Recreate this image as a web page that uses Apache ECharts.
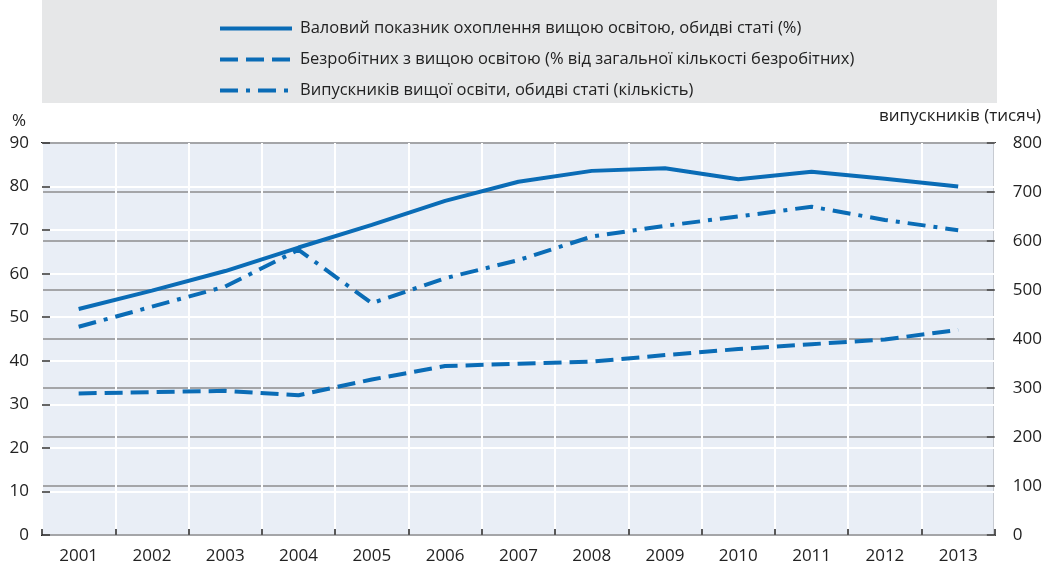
<!DOCTYPE html>
<html><head><meta charset="utf-8">
<script src="https://cdn.jsdelivr.net/npm/echarts@6/dist/echarts.min.js"></script>
<style>html,body{margin:0;padding:0;background:#fff}#c{width:1045px;height:568px}</style>
</head><body><div id="c"></div>
<script>
const years = ['2001','2002','2003','2004','2005','2006','2007','2008','2009','2010','2011','2012','2013'];
const enrolment = [51.9, 56.1, 60.6, 66.0, 71.2, 76.7, 81.1, 83.6, 84.2, 81.7, 83.4, 81.8, 80.0];
const unemployed = [32.5, 32.8, 33.1, 32.1, 35.7, 38.8, 39.3, 39.8, 41.3, 42.7, 43.8, 44.9, 47.1];
const graduates = [425, 466, 507, 582, 473, 524, 561, 609, 631, 650, 670, 643, 622];
const names = [
  'Валовий показник охоплення вищою освітою, обидві статі (%)',
  'Безробітних з вищою освітою (% від загальної кількості безробітних)',
  'Випускників вищої освіти, обидві статі (кількість)'
];
const leftTitle = '%';
const rightTitle = 'випускників (тисяч)';
const blue = '#0a6cb6';
const font = 'Open Sans';
const chart = echarts.init(document.getElementById('c'), null, {renderer:'canvas'});
chart.setOption({
  animation:false,
  textStyle:{fontFamily:font},
  graphic:[
    {type:'rect', left:42, top:0, shape:{width:955, height:103}, style:{fill:'#e6e7e8'}, z:-1},
    {type:'text', left:12, top:113, style:{text:leftTitle, font:'17px "Open Sans"', fill:'#222'}},
    {type:'text', right:4, top:108, style:{text:rightTitle, font:'17px "Open Sans"', fill:'#222'}}
  ],
  legend:{
    orient:'vertical', left:213, top:15, itemWidth:72, itemHeight:14, itemGap:14,
    itemStyle:{opacity:0},
    lineStyle:{width:4, opacity:1},
    textStyle:{fontSize:16.5, color:'#222', fontFamily:font, padding:[0,0,0,3]},
    data:names
  },
  grid:{left:42, right:48, top:143, bottom:33, show:true, backgroundColor:'#e9eef6', borderColor:'#222', borderWidth:2},
  xAxis:{
    type:'category', data:years, boundaryGap:true,
    axisLine:{show:false},
    axisTick:{show:true, inside:true, length:6, lineStyle:{color:'#222', width:1.5}},
    splitLine:{show:true, lineStyle:{color:'#ffffff', width:2}},
    axisLabel:{fontSize:17, color:'#222', margin:13, fontFamily:font}
  },
  yAxis:[
    {type:'value', min:0, max:90, interval:10, position:'left',
     axisLine:{show:false},
     axisTick:{show:true, inside:true, length:8, lineStyle:{color:'#333', width:1.5}},
     splitLine:{show:true, lineStyle:{color:'#ffffff', width:2}},
     axisLabel:{fontSize:17, color:'#222', margin:13, fontFamily:font}},
    {type:'value', min:0, max:800, interval:100, position:'right',
     axisLine:{show:false},
     axisTick:{show:true, inside:true, length:8, lineStyle:{color:'#444', width:1.5}},
     splitLine:{show:true, lineStyle:{color:'#a4a5a8', width:2}},
     axisLabel:{fontSize:17, color:'#222', margin:18, fontFamily:font}}
  ],
  series:[
    {name:names[0], type:'line', data:enrolment, yAxisIndex:0, symbol:'none', lineStyle:{color:blue, width:4}, itemStyle:{color:blue}},
    {name:names[1], type:'line', data:unemployed, yAxisIndex:0, symbol:'none', lineStyle:{color:blue, width:4, type:[18,8]}, itemStyle:{color:blue}},
    {name:names[2], type:'line', data:graduates, yAxisIndex:1, symbol:'none', lineStyle:{color:blue, width:4, type:[18,8,4,8]}, itemStyle:{color:blue}}
  ]
});
</script></body></html>
